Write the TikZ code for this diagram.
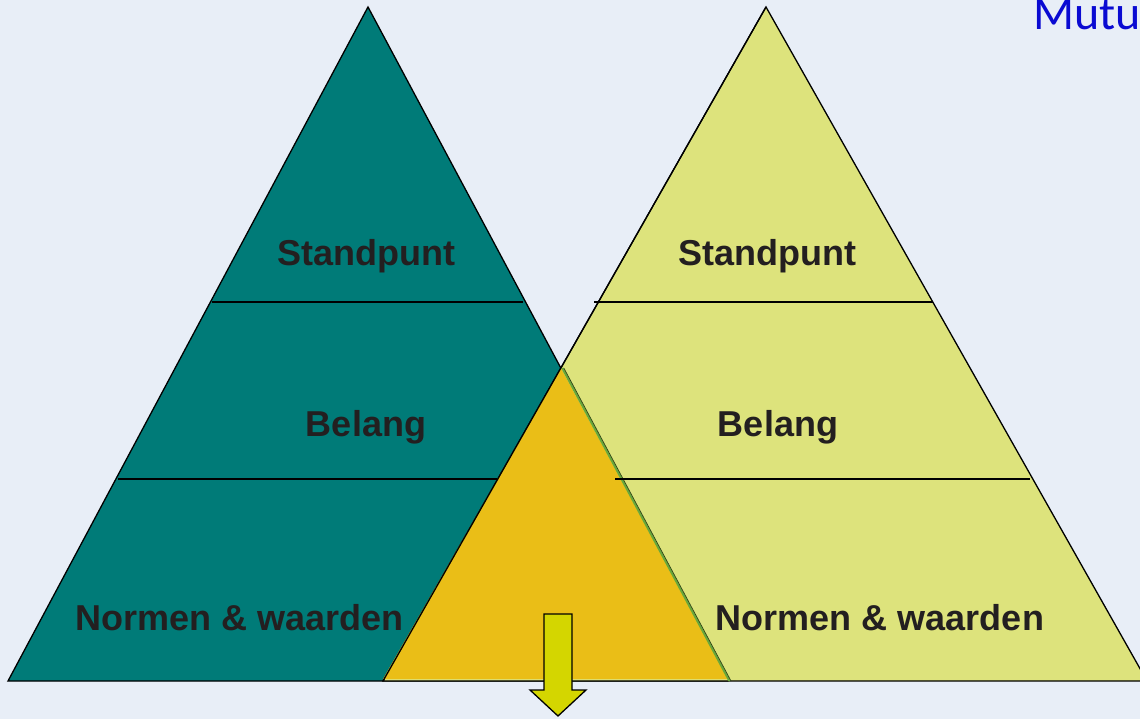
\documentclass[tikz,border=0pt]{standalone}
\usepackage{fontspec}
\setmainfont{Liberation Sans}
\newfontfamily\carlito{Carlito}
\definecolor{bg}{HTML}{E8EEF7}
\definecolor{teal}{HTML}{007B78}
\definecolor{lightg}{HTML}{DDE37C}
\definecolor{overlap}{HTML}{EABE17}
\definecolor{edgegreen}{HTML}{6AA83A}
\definecolor{arrowyel}{HTML}{D4D600}
\definecolor{txt}{HTML}{231F20}
\definecolor{titleblue}{HTML}{0A0AD2}
\tikzset{
  tri/.style={draw=black, line width=1.3pt, line join=miter},
  lvl/.style={draw=black, line width=1.3pt},
  lab/.style={text=txt, font=\bfseries\fontsize{36}{40}\selectfont, anchor=base, inner sep=0pt},
}
\begin{document}
\begin{tikzpicture}[x=1pt,y=-1pt]
\useasboundingbox (0,0) rectangle (1140,719);
\clip (0,0) rectangle (1140,719);
\fill[bg] (0,0) rectangle (1140,719);
% corners
\coordinate (LA) at (368,7);
\coordinate (LL) at (8,681);
\coordinate (LR) at (728,681);
\coordinate (RA) at (766,7);
\coordinate (RL) at (383,681);
\coordinate (RR) at (1147,681);
\coordinate (X) at (intersection of LA--LR and RA--RL);
% triangles
\fill[teal] (LA) -- (LL) -- (LR) -- cycle;
\draw[tri] (LA) -- (LL) -- (LR) -- cycle;
\fill[lightg] (RA) -- (RL) -- (RR) -- cycle;
\draw[tri] (RA) -- (RL) -- (RR) -- cycle;
% overlap
\fill[overlap] (X) -- ([yshift=2pt]RL) -- ([yshift=2pt]LR) -- cycle;
\draw[edgegreen, line width=2.2pt] ([xshift=1.5pt]X) -- ([xshift=1.5pt]LR);
\draw[black!60!edgegreen, line width=0.7pt] ([xshift=3pt]X) -- ([xshift=3pt]LR);
\draw[black, line width=1.3pt] (X) -- (RL);
\draw[black, line width=1.3pt] (RA) -- (X);
% level lines
\draw[lvl] (212,302) -- (523,302);
\draw[lvl] (118,479) -- (497,479);
\draw[lvl] (594,302) -- (933,302);
\draw[lvl] (615,479) -- (1030,479);
% labels
\node[lab] (ls) at (366,266) {Standpunt};
\node[lab] (lb) at (366,436) {Belang};
\node[lab] (ln) at (240,630) {Normen \& waarden};
\node[lab] (rs) at (767,266) {Standpunt};
\node[lab] (rb) at (778,436) {Belang};
\node[lab] (rn) at (880,630) {Normen \& waarden};
% arrow
\draw[fill=arrowyel, draw=black, line width=1.3pt, line join=miter]
  (544,614) -- (572,614) -- (572,690) -- (586,690) -- (558,716) -- (530,690) -- (544,690) -- cycle;
% title fragment
\node[anchor=base west, inner sep=0pt, text=titleblue, font=\carlito\fontsize{48}{52}\selectfont] (title) at (1033,30) {Mutu};
\end{tikzpicture}
\end{document}
